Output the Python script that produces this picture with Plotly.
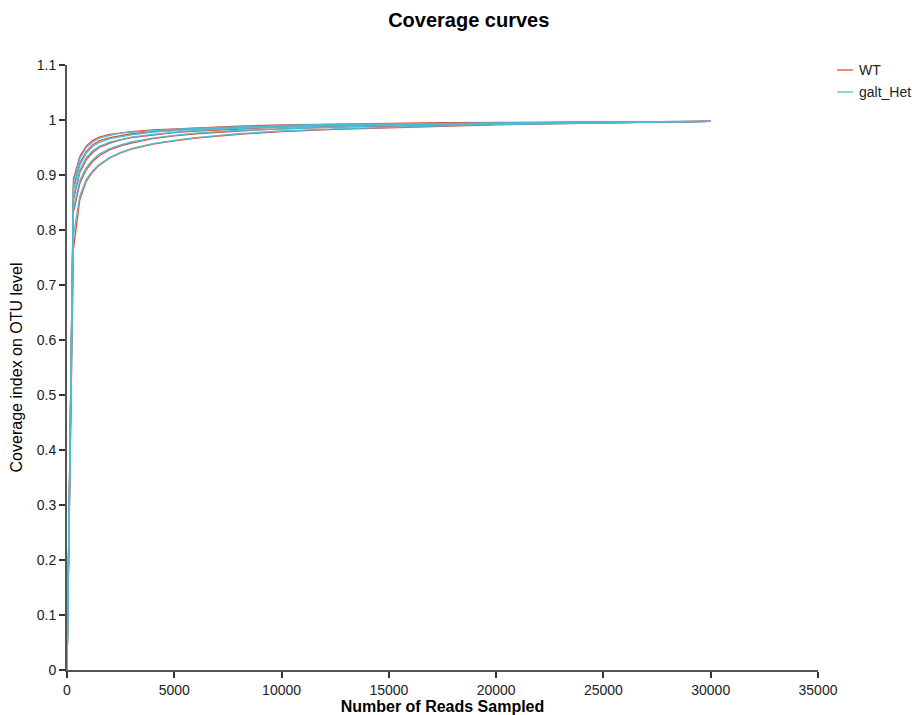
import plotly.graph_objects as go

# Reads sampled at each rarefaction step
reads = [1, 300, 600, 900, 1200, 1500, 2000, 2500, 3000, 4000, 5000, 6000,
         8000, 10000, 12500, 15000, 17500, 20000, 22500, 25000, 27500, 30000]

# Good's coverage per sample (WT group)
wt_1 = [0, 0.893, 0.934, 0.953, 0.963, 0.969, 0.974, 0.977, 0.979, 0.982, 0.984, 0.986,
        0.989, 0.991, 0.993, 0.994, 0.995, 0.9955, 0.996, 0.9965, 0.997, 0.9975]
wt_2 = [0, 0.878, 0.922, 0.943, 0.955, 0.962, 0.968, 0.972, 0.975, 0.979, 0.982, 0.984,
        0.987, 0.989, 0.991, 0.993, 0.994, 0.995, 0.9958, 0.9963, 0.997, 0.9975]
wt_3 = [0, 0.855, 0.905, 0.928, 0.941, 0.950, 0.958, 0.964, 0.968, 0.973, 0.977, 0.980,
        0.984, 0.987, 0.989, 0.991, 0.993, 0.994, 0.995, 0.996, 0.997, 0.9975]
wt_4 = [0, 0.832, 0.885, 0.910, 0.925, 0.935, 0.946, 0.953, 0.958, 0.966, 0.971, 0.975,
        0.980, 0.984, 0.987, 0.989, 0.991, 0.993, 0.994, 0.995, 0.996, 0.9975]
wt_5 = [0, 0.765, 0.856, 0.889, 0.906, 0.918, 0.931, 0.940, 0.947, 0.956, 0.962, 0.967,
        0.974, 0.979, 0.983, 0.986, 0.989, 0.991, 0.993, 0.995, 0.996, 0.9975]

# Good's coverage per sample (galt_Het group)
het_1 = [0, 0.888, 0.930, 0.950, 0.960, 0.967, 0.972, 0.976, 0.978, 0.981, 0.983, 0.985,
         0.988, 0.990, 0.992, 0.993, 0.994, 0.995, 0.996, 0.9965, 0.997, 0.9975]
het_2 = [0, 0.872, 0.918, 0.940, 0.952, 0.959, 0.966, 0.970, 0.973, 0.978, 0.981, 0.983,
         0.986, 0.989, 0.991, 0.992, 0.994, 0.995, 0.9955, 0.9962, 0.997, 0.9975]
het_3 = [0, 0.860, 0.909, 0.932, 0.944, 0.952, 0.960, 0.965, 0.969, 0.974, 0.978, 0.981,
         0.985, 0.987, 0.990, 0.992, 0.993, 0.994, 0.995, 0.996, 0.997, 0.9975]
het_4 = [0, 0.840, 0.890, 0.914, 0.928, 0.938, 0.948, 0.955, 0.960, 0.967, 0.972, 0.976,
         0.981, 0.984, 0.987, 0.990, 0.992, 0.993, 0.994, 0.995, 0.996, 0.9975]
het_5 = [0, 0.790, 0.862, 0.892, 0.908, 0.919, 0.932, 0.941, 0.948, 0.957, 0.963, 0.968,
         0.975, 0.980, 0.984, 0.987, 0.990, 0.992, 0.993, 0.995, 0.996, 0.9975]

wt_samples = [wt_1, wt_2, wt_3, wt_4, wt_5]
het_samples = [het_1, het_2, het_3, het_4, het_5]

groups = ["WT", "galt_Het"]
colors = ["#E64B35", "#4DBBD5"]

x_ticks = [0, 5000, 10000, 15000, 20000, 25000, 30000, 35000]
y_ticks = [0, 0.1, 0.2, 0.3, 0.4, 0.5, 0.6, 0.7, 0.8, 0.9, 1.0, 1.1]
y_tick_text = ["0", "0.1", "0.2", "0.3", "0.4", "0.5", "0.6", "0.7", "0.8", "0.9", "1", "1.1"]

fig = go.Figure()

for name, color, samples in zip(groups, colors, [wt_samples, het_samples]):
    for i, vals in enumerate(samples):
        fig.add_trace(go.Scatter(
            x=reads, y=vals, mode="lines", name=name, legendgroup=name,
            showlegend=False, line=dict(color=color, width=1.3),
            hoverinfo="x+y+name",
        ))

# Compact legend drawn with short line keys
legend_x0, legend_x1, legend_tx = 1.0253, 1.0466, 1.0519
legend_y = [0.9917, 0.9554]
for name, color, ly in zip(groups, colors, legend_y):
    fig.add_shape(type="line", xref="paper", yref="paper",
                  x0=legend_x0, x1=legend_x1, y0=ly, y1=ly,
                  line=dict(color=color, width=1.3))
    fig.add_annotation(xref="paper", yref="paper", x=legend_tx, y=ly, text=name,
                       showarrow=False, xanchor="left", yanchor="middle",
                       font=dict(size=14, color="#222"))

axis_common = dict(
    showgrid=False, zeroline=False, showline=True, linecolor="#555", linewidth=2,
    ticks="outside", ticklen=6, tickwidth=1.5, tickcolor="#333", automargin=False,
    tickfont=dict(size=14, color="#222", family="Liberation Sans, Arial, sans-serif"),
)

fig.update_layout(
    width=912, height=715,
    paper_bgcolor="white", plot_bgcolor="white",
    margin=dict(l=67, r=94, t=65, b=45),
    font=dict(family="Liberation Sans, Arial, sans-serif", color="#111"),
    title=dict(text="<b>Coverage curves</b>", x=0.514, xref="container", xanchor="center",
               y=0.972, yanchor="middle", font=dict(size=20, color="#000")),
    xaxis=dict(range=[0, 35000], tickvals=x_ticks, ticktext=[str(t) for t in x_ticks],
               title=dict(text="<b>Number of Reads Sampled</b>", font=dict(size=16, color="#000"),
                          standoff=6),
               **axis_common),
    yaxis=dict(range=[0, 1.1], tickvals=y_ticks, ticktext=y_tick_text,
               title=dict(text="Coverage index on OTU level", font=dict(size=16, color="#000"),
                          standoff=10),
               **axis_common),
    showlegend=False,
)

fig.write_html("out.html")
